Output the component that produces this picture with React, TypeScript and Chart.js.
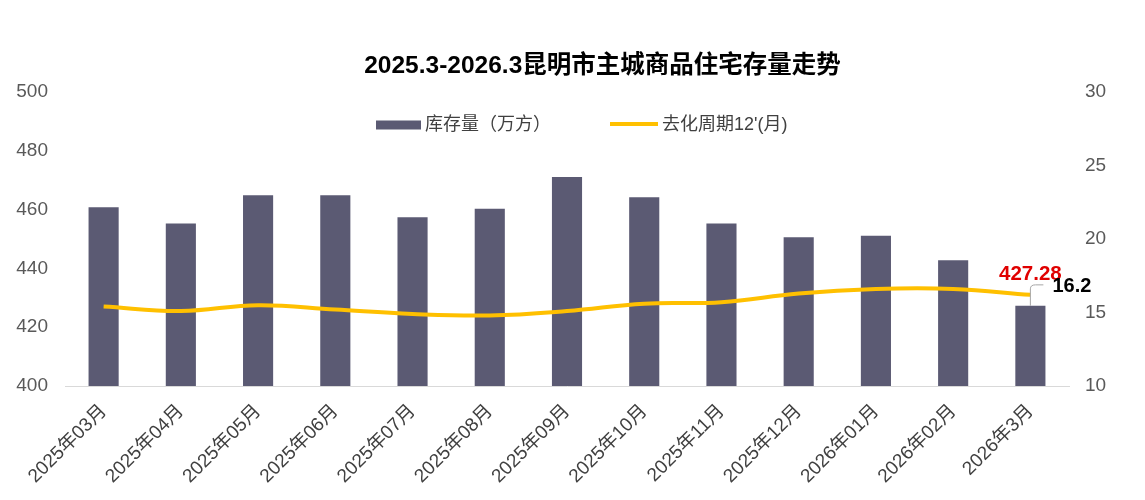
import { useEffect, useRef } from 'react';
import { Chart, registerables } from 'chart.js';

Chart.register(...registerables);

const categories = [
  '2025年03月', '2025年04月', '2025年05月', '2025年06月', '2025年07月', '2025年08月',
  '2025年09月', '2025年10月', '2025年11月', '2025年12月', '2026年01月', '2026年02月', '2026年3月',
];
const stockValues = [460.8, 455.3, 464.9, 464.9, 457.4, 460.3, 471.1, 464.2, 455.3, 450.6, 451.1, 442.8, 427.28];
const cycleValues = [15.4, 15.1, 15.5, 15.2, 14.9, 14.8, 15.1, 15.6, 15.7, 16.3, 16.6, 16.6, 16.2];
const leftAxisRange = [400, 500, 20];
const rightAxisRange = [10, 30, 5];
const titleText = '2025.3-2026.3昆明市主城商品住宅存量走势';
const legendLabels = ['库存量（万方）', "去化周期12'(月)"];

const FONT = "'Liberation Sans', 'Noto Sans CJK SC', sans-serif";
const BAR_COLOR = '#5B5A73';
const LINE_COLOR = '#FFC000';

const overlayPlugin = {
  id: 'overlay',
  afterDraw(chart: any) {
    const ctx = chart.ctx as CanvasRenderingContext2D;
    ctx.save();
    // Title
    ctx.font = `bold 24.5px ${FONT}`;
    ctx.fillStyle = '#000000';
    ctx.textAlign = 'center';
    ctx.textBaseline = 'middle';
    ctx.fillText(titleText, 602.5, 66);

    // Legend
    ctx.font = `18px ${FONT}`;
    const ly = 125;
    ctx.fillStyle = BAR_COLOR;
    ctx.fillRect(376, ly - 4.5, 45, 9);
    ctx.fillStyle = '#404040';
    ctx.textAlign = 'left';
    ctx.fillText(legendLabels[0], 425, ly);
    ctx.strokeStyle = LINE_COLOR;
    ctx.lineWidth = 4;
    ctx.beginPath();
    ctx.moveTo(610, ly - 1);
    ctx.lineTo(658, ly - 1);
    ctx.stroke();
    ctx.fillText(legendLabels[1], 662, ly);

    // Data labels for last point
    const last = categories.length - 1;
    const bar = chart.getDatasetMeta(0).data[last];
    const pt = chart.getDatasetMeta(1).data[last];
    ctx.font = `bold 20.5px ${FONT}`;
    ctx.fillStyle = '#E00000';
    ctx.textAlign = 'center';
    ctx.fillText(stockValues[last].toFixed(2), bar.x, bar.y - 31);

    ctx.strokeStyle = '#A6A6A6';
    ctx.lineWidth = 1;
    ctx.beginPath();
    ctx.moveTo(bar.x, bar.y);
    ctx.lineTo(bar.x, pt.y - 6);
    ctx.quadraticCurveTo(bar.x, pt.y - 10, bar.x + 5, pt.y - 10);
    ctx.lineTo(bar.x + 13, pt.y - 10);
    ctx.stroke();

    ctx.font = `bold 20px ${FONT}`;
    ctx.fillStyle = '#000000';
    ctx.textAlign = 'left';
    ctx.fillText(cycleValues[last].toFixed(1), bar.x + 22, pt.y - 8);
    ctx.restore();
  },
};

export default function App() {
  const ref = useRef<HTMLCanvasElement | null>(null);
  useEffect(() => {
    document.body.style.margin = '0';
    const canvas = ref.current;
    if (!canvas) return;
    const chart = new Chart(canvas, {
      type: 'bar',
      data: {
        labels: categories,
        datasets: [
          {
            type: 'bar',
            label: legendLabels[0],
            data: stockValues,
            backgroundColor: BAR_COLOR,
            yAxisID: 'y',
            barPercentage: 0.39,
            categoryPercentage: 1,
            order: 1,
          },
          {
            type: 'line',
            label: legendLabels[1],
            data: cycleValues,
            borderColor: LINE_COLOR,
            backgroundColor: LINE_COLOR,
            borderWidth: 4,
            pointRadius: 0,
            tension: 0.4,
            yAxisID: 'y1',
            order: 0,
          },
        ],
      },
      options: {
        responsive: false,
        animation: false,
        layout: { padding: { top: 92, left: 0, right: 0, bottom: 0 } },
        plugins: {
          legend: { display: false },
          title: { display: false },
          tooltip: { enabled: false },
        },
        scales: {
          x: {
            grid: { display: false, drawTicks: false },
            border: { display: true, color: '#D9D9D9', width: 1 },
            ticks: {
              autoSkip: false,
              minRotation: 45,
              maxRotation: 45,
              padding: 14,
              color: '#404040',
              font: { family: FONT, size: 19 },
            },
            afterFit(scale: any) {
              scale.height = 114;
            },
          },
          y: {
            position: 'left',
            min: leftAxisRange[0],
            max: leftAxisRange[1],
            grid: { display: false, drawTicks: false },
            border: { display: false },
            ticks: {
              stepSize: leftAxisRange[2],
              padding: 17,
              color: '#595959',
              font: { family: FONT, size: 19 },
            },
            afterFit(scale: any) {
              scale.width = 65;
            },
          },
          y1: {
            position: 'right',
            min: rightAxisRange[0],
            max: rightAxisRange[1],
            grid: { display: false, drawTicks: false },
            border: { display: false },
            ticks: {
              stepSize: rightAxisRange[2],
              padding: 16,
              color: '#595959',
              font: { family: FONT, size: 19 },
            },
            afterFit(scale: any) {
              scale.width = 76;
            },
          },
        },
      },
      plugins: [overlayPlugin],
    });
    return () => chart.destroy();
  }, []);
  return <canvas ref={ref} width={1145} height={500} style={{ display: 'block' }} />;
}
